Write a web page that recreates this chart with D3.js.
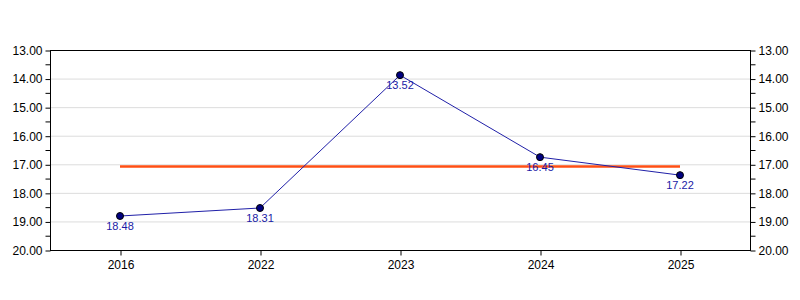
<!DOCTYPE html>
<html>
<head>
  <meta charset="utf-8">
  <script src="https://d3js.org/d3.v7.min.js"></script>
  <style>
    body { margin: 0; background: #fff; }
    text { font-family: "Liberation Sans", Arial, sans-serif; }
  </style>
</head>
<body>
<script>
  // chart data
  var years = ["2016", "2022", "2023", "2024", "2025"];
  var values = [18.81, 18.53, 13.88, 16.75, 17.38];
  var labels = ["18.48", "18.31", "13.52", "16.45", "17.22"];
  var average = 17.08;
  var yTicks = [13, 14, 15, 16, 17, 18, 19, 20];
  var yMinor = [13.5, 14.5, 15.5, 16.5, 17.5, 18.5, 19.5];

  var width = 800, height = 300,
      pLeft = 50, pRight = 750, pTop = 50, pBottom = 250;

  var svg = d3.select("body").append("svg")
      .attr("width", width)
      .attr("height", height);

  var x = d3.scalePoint().domain(years).range([pLeft, pRight]).padding(0.5);
  var y = d3.scaleLinear().domain([13, 20]).range([pTop, pBottom]);

  // gridlines
  svg.append("g").selectAll("line")
    .data(yTicks.slice(1, -1))
    .enter().append("line")
      .attr("x1", pLeft).attr("x2", pRight)
      .attr("y1", d => y(d) + 0.5).attr("y2", d => y(d) + 0.5)
      .attr("stroke", "#dcdcdc");

  // frame
  svg.append("rect")
    .attr("x", pLeft + 0.5).attr("y", pTop + 0.5)
    .attr("width", pRight - pLeft).attr("height", pBottom - pTop)
    .attr("fill", "none").attr("stroke", "#000");

  // left axis
  var yl = svg.append("g").attr("transform", "translate(" + (pLeft + 0.5) + ",0.5)")
    .call(d3.axisLeft(y).tickValues(yTicks).tickFormat(d3.format(".2f")).tickSize(5).tickPadding(3));
  yl.append("g").selectAll("line").data(yMinor).enter().append("line")
    .attr("x1", -5).attr("x2", 0).attr("y1", d => y(d)).attr("y2", d => y(d)).attr("stroke", "#000");

  // right axis
  var yr = svg.append("g").attr("transform", "translate(" + (pRight + 0.5) + ",0.5)")
    .call(d3.axisRight(y).tickValues(yTicks).tickFormat(d3.format(".2f")).tickSize(5).tickPadding(3));
  yr.append("g").selectAll("line").data(yMinor).enter().append("line")
    .attr("x1", 0).attr("x2", 5).attr("y1", d => y(d)).attr("y2", d => y(d)).attr("stroke", "#000");

  // bottom axis
  svg.append("g").attr("transform", "translate(0.5," + (pBottom + 0.5) + ")")
    .call(d3.axisBottom(x).tickSize(5).tickPadding(5));

  svg.selectAll(".domain").remove();
  svg.selectAll(".tick text")
    .attr("font-family", "Liberation Sans, Arial, sans-serif")
    .attr("fill", "#000")
    .style("font-size", "12px");

  // average line
  svg.append("line")
    .attr("x1", x(years[0])).attr("x2", x(years[years.length - 1]))
    .attr("y1", y(average)).attr("y2", y(average))
    .attr("stroke", "#ff4f14").attr("stroke-width", 2.5);

  // series line
  var line = d3.line().x((d, i) => x(years[i])).y(d => y(d));
  svg.append("path")
    .datum(values)
    .attr("d", line)
    .attr("fill", "none")
    .attr("stroke", "#2020a8")
    .attr("stroke-width", 1);

  // points
  svg.append("g").selectAll("circle")
    .data(values).enter().append("circle")
      .attr("cx", (d, i) => x(years[i]))
      .attr("cy", d => y(d))
      .attr("r", 3.5)
      .attr("fill", "#000080")
      .attr("stroke", "#000")
      .attr("stroke-width", 1);

  // value labels
  svg.append("g").selectAll("text")
    .data(values).enter().append("text")
      .attr("x", (d, i) => x(years[i]))
      .attr("y", d => y(d) + 14)
      .attr("text-anchor", "middle")
      .attr("font-size", 11)
      .attr("fill", "#1a1aa6")
      .text((d, i) => labels[i]);
</script>
</body>
</html>
